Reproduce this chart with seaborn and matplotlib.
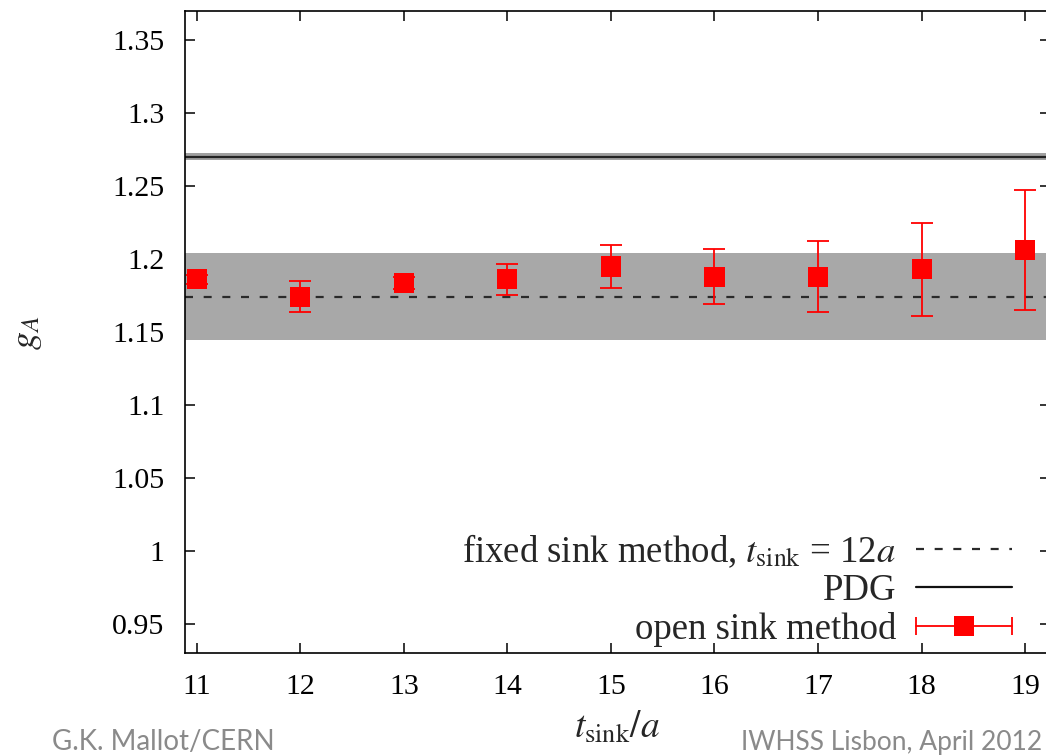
import numpy as np
import matplotlib
matplotlib.use("Agg")
import matplotlib.pyplot as plt
from matplotlib.lines import Line2D
from matplotlib.legend_handler import HandlerLine2D, HandlerTuple
import seaborn as sns
import pandas as pd

# Open-sink results: g_A versus sink separation
t_sink = [11, 12, 13, 14, 15, 16, 17, 18, 19]
g_a = [1.186, 1.174, 1.1836, 1.186, 1.1948, 1.1878, 1.1878, 1.1929, 1.2062]
g_a_err = [0.003, 0.0105, 0.004, 0.0108, 0.0146, 0.019, 0.0243, 0.0317, 0.041]

# Fixed-sink result (t_sink = 12a) and PDG value with their bands
fixed_val = 1.1742
fixed_err = 0.0297
pdg_val = 1.2701
pdg_err = 0.0025

y_ticks = [0.95, 1.0, 1.05, 1.1, 1.15, 1.2, 1.25, 1.3, 1.35]
y_tick_labels = ["0.95", "1", "1.05", "1.1", "1.15", "1.2", "1.25", "1.3", "1.35"]
x_ticks = [11, 12, 13, 14, 15, 16, 17, 18, 19]

legend_labels = [r"fixed sink method, $t_{\rm sink}$ = 12$a$", "PDG", "open sink method"]

sns.set_theme(style="ticks")
plt.rcParams["font.family"] = ["Liberation Serif", "DejaVu Serif"]
plt.rcParams["mathtext.fontset"] = "stix"

W, H = 1046, 755
fig = plt.figure(figsize=(W / 100, H / 100), dpi=100)
ax = fig.add_axes([185.3 / W, 1 - 653 / H, (1050 - 185.3) / W, (653 - 10.7) / H])

# bands
ax.axhspan(fixed_val - fixed_err, fixed_val + fixed_err, color="#a8a8a8", lw=0, zorder=1)
ax.axhspan(pdg_val - pdg_err, pdg_val + pdg_err, color="#a0a0a0", lw=0, zorder=1)
ax.axhline(pdg_val, color="#222222", lw=1.6, zorder=2)
ax.axhline(fixed_val, color="#2a2a2a", lw=1.6, dashes=(3.6, 4.8), zorder=2)

df = pd.DataFrame({"t": t_sink, "g": g_a, "err": g_a_err})
ax.errorbar(df["t"], df["g"], yerr=df["err"], fmt="none", ecolor="#ff0000",
            elinewidth=1.3, capsize=8, capthick=1.3, zorder=3)
sns.scatterplot(data=df, x="t", y="g", marker="s", s=14.5 ** 2, color="#ff0000",
                edgecolor="none", linewidth=0, ax=ax, zorder=4, legend=False)

ax.set_xlim(10.89, 19.24)
ax.set_ylim(0.93, 1.37)
ax.set_xticks(x_ticks)
ax.set_xticklabels([str(t) for t in x_ticks])
ax.set_yticks(y_ticks)
ax.set_yticklabels(y_tick_labels)
ax.tick_params(axis="both", direction="in", length=7, width=1.1, colors="black",
               labelsize=21.5, top=True, right=True)
ax.tick_params(axis="x", pad=15)
ax.tick_params(axis="y", pad=15)
for sp in ax.spines.values():
    sp.set_linewidth(1.2)
    sp.set_color("black")
ax.set_xlabel("")
ax.set_ylabel("")

# axis titles
fig.text(617 / W, 1 - 738 / H, r"$t_{\rm sink}/a$", fontsize=27, ha="center", va="baseline")
fig.text(27 / W, 1 - 333 / H, r"$g_A$", fontsize=26, ha="center", va="center", rotation=90)

# legend (gnuplot style: text on the left, sample on the right)
h_fixed = Line2D([], [], color="#2a2a2a", lw=1.6, dashes=(3.6, 4.8))
h_pdg = Line2D([], [], color="#111111", lw=1.6)
h_bar = Line2D([], [], color="#ff0000", lw=1.3, marker="|", markersize=13, mew=1.3)
h_sq = Line2D([], [], color="#ff0000", ls="none", marker="s", markersize=14.5, mew=0)
leg = ax.legend([h_fixed, h_pdg, (h_bar, h_sq)], legend_labels,
                handler_map={h_bar: HandlerLine2D(numpoints=2, marker_pad=0),
                             h_sq: HandlerLine2D(numpoints=1),
                             tuple: HandlerTuple(ndivide=1)},
                loc="lower right", bbox_to_anchor=(1012 / W, 1 - 647 / H),
                bbox_transform=fig.transFigure, frameon=False, markerfirst=False,
                fontsize=26.5, handlelength=2.6, handletextpad=0.55,
                labelspacing=0.1, borderpad=0, borderaxespad=0)

# slide footer
footer_font = ["Lato", "DejaVu Sans"]
fig.text(52 / W, 0.0, "G.K. Mallot/CERN", fontsize=20, color="#8a8a8a",
         family=footer_font, ha="left", va="bottom")
fig.text(1042 / W, 0.0, "IWHSS Lisbon, April 2012", fontsize=19, color="#8a8a8a",
         family=footer_font, ha="right", va="bottom")

fig.savefig("out.png", dpi=100)
